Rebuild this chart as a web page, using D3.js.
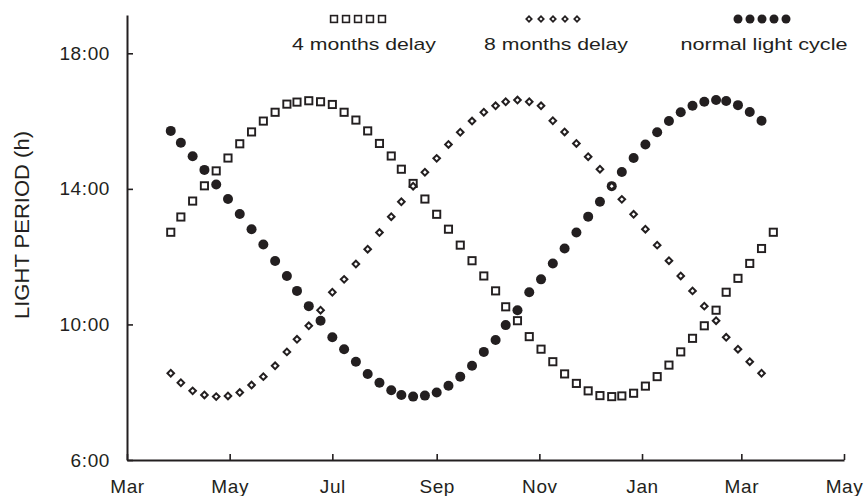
<!DOCTYPE html>
<html>
<head>
<meta charset="utf-8">
<script src="https://cdn.jsdelivr.net/npm/d3@7"></script>
<style>
  body { margin: 0; background: #fff; }
  text { font-family: "Liberation Sans", Arial, sans-serif; fill: #231f20; }
</style>
</head>
<body>
<div id="chart"></div>
<script>
// sampling dates (roughly weekly), shared by all three series
const sampleDates = [
  "2001-03-27", "2001-04-02", "2001-04-09", "2001-04-16", "2001-04-23", "2001-04-30",
  "2001-05-07", "2001-05-14", "2001-05-21", "2001-05-28", "2001-06-04", "2001-06-10",
  "2001-06-17", "2001-06-24", "2001-07-01", "2001-07-08", "2001-07-15", "2001-07-22",
  "2001-07-29", "2001-08-05", "2001-08-11", "2001-08-18", "2001-08-25", "2001-09-01",
  "2001-09-08", "2001-09-15", "2001-09-22", "2001-09-29", "2001-10-06", "2001-10-12",
  "2001-10-19", "2001-10-26", "2001-11-02", "2001-11-09", "2001-11-16", "2001-11-23",
  "2001-11-30", "2001-12-07", "2001-12-14", "2001-12-20", "2001-12-27", "2002-01-03",
  "2002-01-10", "2002-01-17", "2002-01-24", "2002-01-31", "2002-02-07", "2002-02-14",
  "2002-02-20", "2002-02-27", "2002-03-06", "2002-03-13", "2002-03-20"
];

// light period in hours
const normalCycle = [
  15.71, 15.36, 14.96, 14.56, 14.13, 13.70, 13.26, 12.81, 12.36, 11.87, 11.43, 10.99,
  10.54, 10.11, 9.62, 9.27, 8.90, 8.54, 8.28, 8.06, 7.92, 7.87, 7.90, 7.99,
  8.19, 8.46, 8.78, 9.19, 9.54, 9.98, 10.42, 10.95, 11.33, 11.80, 12.24, 12.71,
  13.18, 13.62, 14.08, 14.50, 14.91, 15.31, 15.67, 16.00, 16.26, 16.45, 16.57, 16.62,
  16.59, 16.47, 16.27, 16.01
];

const delay4Months = [
  12.72, 13.17, 13.64, 14.09, 14.53, 14.91, 15.33, 15.68, 16.00, 16.26, 16.50, 16.56,
  16.60, 16.57, 16.49, 16.26, 16.03, 15.71, 15.34, 14.97, 14.58, 14.16, 13.70, 13.25,
  12.81, 12.34, 11.88, 11.43, 10.99, 10.52, 10.11, 9.64, 9.27, 8.90, 8.54, 8.26,
  8.04, 7.90, 7.87, 7.89, 7.97, 8.18, 8.46, 8.80, 9.19, 9.59, 9.96, 10.42,
  10.95, 11.36, 11.80, 12.24, 12.72
];

const delay8Months = [
  8.56, 8.28, 8.04, 7.92, 7.87, 7.89, 7.99, 8.21, 8.46, 8.78, 9.19, 9.56,
  9.96, 10.42, 10.95, 11.33, 11.78, 12.22, 12.71, 13.18, 13.62, 14.08, 14.49, 14.90,
  15.31, 15.67, 16.00, 16.26, 16.45, 16.57, 16.62, 16.57, 16.45, 16.01, 15.68, 15.34,
  14.95, 14.58, 14.08, 13.69, 13.25, 12.81, 12.34, 11.88, 11.43, 10.99, 10.54, 10.11,
  9.62, 9.27, 8.90, 8.56
];

const tickDates = ["2001-03-01", "2001-05-01", "2001-07-01", "2001-09-01",
                   "2001-11-01", "2002-01-01", "2002-03-01", "2002-05-01"];
const monthLabels = ["Mar", "May", "Jul", "Sep", "Nov", "Jan", "Mar", "May"];
const hourTicks = [6, 10, 14, 18];

const legendNames = ["4 months delay", "8 months delay", "normal light cycle"];

const ink = "#231f20";
const width = 864, height = 496;
const parseDay = d3.utcParse("%Y-%m-%d");
const dates = sampleDates.map(parseDay);

const svg = d3.select("#chart").append("svg")
  .attr("width", width)
  .attr("height", height);

const x = d3.scaleUtc()
  .domain([parseDay("2001-03-01"), parseDay("2002-05-01")])
  .range([127, 844]);

const y = d3.scaleLinear()
  .domain([6, 19.13])
  .range([460, 15]);

// axes, ticks point inward
const xAxis = svg.append("g")
  .attr("transform", `translate(0,${y(6)})`)
  .call(d3.axisBottom(x)
    .tickValues(tickDates.map(parseDay))
    .tickFormat((d, i) => monthLabels[i])
    .tickSizeInner(-6)
    .tickSizeOuter(0)
    .tickPadding(20));

const yAxis = svg.append("g")
  .attr("transform", `translate(${x.range()[0]},0)`)
  .call(d3.axisLeft(y)
    .tickValues(hourTicks)
    .tickFormat(d => d + ":00")
    .tickSizeInner(-6)
    .tickSizeOuter(0)
    .tickPadding(17));

[xAxis, yAxis].forEach(g => {
  g.attr("font-family", null).attr("font-size", null);
  g.select(".domain").attr("stroke", ink).attr("stroke-width", 2);
  g.selectAll(".tick line").attr("stroke", ink).attr("stroke-width", 1.6);
  g.selectAll(".tick text")
    .style("font-size", "19px")
    .style("letter-spacing", "0.6px");
});

// y axis title
svg.append("text")
  .attr("transform", "translate(29,225) rotate(-90)")
  .attr("text-anchor", "middle")
  .attr("textLength", 188)
  .attr("lengthAdjust", "spacingAndGlyphs")
  .style("font-size", "20px")
  .text("LIGHT PERIOD (h)");

const diamond = d3.symbol(d3.symbolSquare, 22);

// normal light cycle: filled circles
svg.append("g")
  .selectAll("circle")
  .data(normalCycle)
  .join("circle")
  .attr("cx", (d, i) => x(dates[i]))
  .attr("cy", d => y(d))
  .attr("r", 5)
  .attr("fill", ink);

// 4 months delay: open squares
svg.append("g")
  .selectAll("rect")
  .data(delay4Months)
  .join("rect")
  .attr("x", (d, i) => x(dates[i]) - 3.6)
  .attr("y", d => y(d) - 3.6)
  .attr("width", 7.2)
  .attr("height", 7.2)
  .attr("fill", "#fff")
  .attr("stroke", ink)
  .attr("stroke-width", 1.9);

// 8 months delay: open diamonds
svg.append("g")
  .selectAll("path")
  .data(delay8Months)
  .join("path")
  .attr("d", diamond)
  .attr("transform", (d, i) => `translate(${x(dates[i])},${y(d)}) rotate(45)`)
  .attr("fill", "#fff")
  .attr("stroke", ink)
  .attr("stroke-width", 2);

// legend: row of five symbols above each label
const legendTextX = [364, 556, 764];
const legendSymX = [358, 553, 762];
const legendLen = [144, 144, 167];
const legend = svg.append("g");

legendNames.forEach((name, k) => {
  legend.append("text")
    .attr("x", legendTextX[k])
    .attr("y", 50)
    .attr("text-anchor", "middle")
    .attr("textLength", legendLen[k])
    .attr("lengthAdjust", "spacingAndGlyphs")
    .style("font-size", "17px")
    .text(name);

  d3.range(5).forEach(j => {
    const cx = legendSymX[k] + (j - 2) * 12;
    const cy = 19;
    if (k === 0) {
      legend.append("rect")
        .attr("x", cx - 3.4).attr("y", cy - 3.4)
        .attr("width", 6.8).attr("height", 6.8)
        .attr("fill", "#fff").attr("stroke", ink).attr("stroke-width", 1.6);
    } else if (k === 1) {
      legend.append("path")
        .attr("d", d3.symbol(d3.symbolSquare, 15)())
        .attr("transform", `translate(${cx},${cy}) rotate(45)`)
        .attr("fill", "#fff").attr("stroke", ink).attr("stroke-width", 1.7);
    } else {
      legend.append("circle")
        .attr("cx", cx).attr("cy", cy).attr("r", 4.5)
        .attr("fill", ink);
    }
  });
});
</script>
</body>
</html>
